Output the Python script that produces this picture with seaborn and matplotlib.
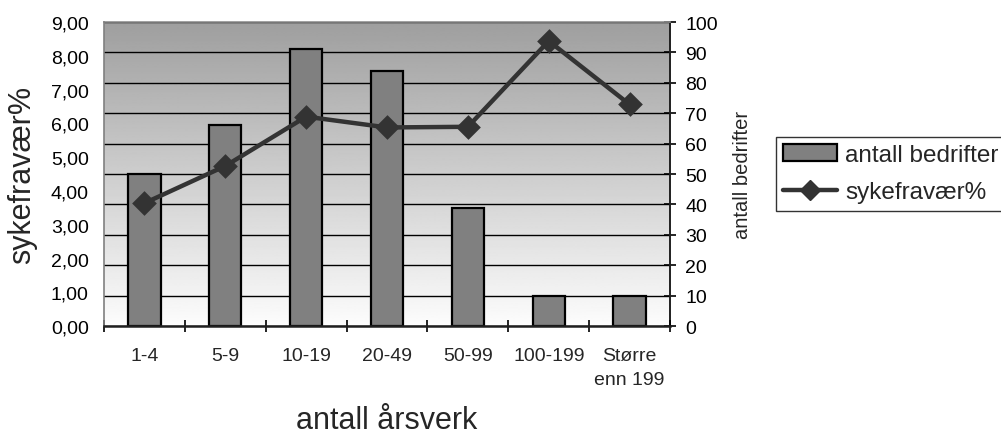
import numpy as np
import matplotlib
matplotlib.use("Agg")
import matplotlib.pyplot as plt
from matplotlib.patches import Patch
from matplotlib.lines import Line2D
from matplotlib.ticker import FixedLocator, FuncFormatter
import seaborn as sns

# Data
categories = ["1-4", "5-9", "10-19", "20-49", "50-99", "100-199", "Større\nenn 199"]
antall_bedrifter = [50, 66, 91, 84, 39, 10, 10]
sykefravaer = [3.64, 4.74, 6.20, 5.88, 5.90, 8.44, 6.56]

sns.set_style("white")
plt.rcParams["font.family"] = ["Liberation Sans", "DejaVu Sans"]

fig = plt.figure(figsize=(10.01, 4.35), dpi=100)
ax = fig.add_axes([0.1039, 0.248, 0.5655, 0.699])
ax2 = ax.twinx()

# line axis above the bar axis
ax.set_zorder(ax2.get_zorder() + 1)
ax.patch.set_visible(False)

# gradient background on the bar axis: light at the bottom, darker at the top
grad = np.linspace(0.99, 0.62, 256).reshape(-1, 1)
ax2.imshow(grad, extent=[0, 1, 0, 1], transform=ax2.transAxes,
           aspect="auto", cmap="gray", vmin=0, vmax=1, zorder=0,
           interpolation="bilinear", origin="lower")

sns.barplot(x=categories, y=antall_bedrifter, ax=ax2, color="#808080",
            edgecolor="black", linewidth=1.6, width=0.4, saturation=1,
            zorder=2)

sns.pointplot(x=categories, y=sykefravaer, ax=ax, color="#333333",
              markers="D", linestyles="-", errorbar=None,
              markersize=10, linewidth=3.2)

ax.set_xlim(-0.5, 6.5)
ax2.set_xlim(-0.5, 6.5)
ax.set_ylim(0, 9)
ax2.set_ylim(0, 100)

# left axis
ax.set_yticks(np.arange(0, 10, 1))
ax.yaxis.set_major_formatter(FuncFormatter(lambda v, p: f"{v:.2f}".replace(".", ",")))
ax.tick_params(axis="y", length=0, pad=11, labelsize=14, colors="black")
ax.set_ylabel("sykefravær%", fontsize=22, labelpad=10)

# right axis
ax2.set_yticks(np.arange(0, 101, 10))
ax2.tick_params(axis="y", direction="inout", length=8, width=1.2, pad=7,
                labelsize=14, colors="black")
ax2.set_ylabel("antall bedrifter", fontsize=14.5, labelpad=11)
ax2.grid(axis="y", color="black", linewidth=1.0)
ax2.grid(axis="x", visible=False)
ax2.set_axisbelow(True)
ax2.xaxis.set_visible(False)
ax2.set_xlabel("")

# category axis
ax.set_xticks(range(len(categories)))
ax.set_xticklabels(categories, fontsize=14, linespacing=1.55)
ax.xaxis.set_minor_locator(FixedLocator(np.arange(-0.5, 7, 1)))
ax.tick_params(axis="x", which="major", length=0, pad=15)
ax.tick_params(axis="x", which="minor", direction="inout", length=9,
               width=1.2, color="black", bottom=True)
ax.set_xlabel("antall årsverk", fontsize=22, labelpad=12)
ax.grid(False)

# spines
for s in ax.spines.values():
    s.set_visible(False)
ax.spines["left"].set_visible(True)
ax.spines["left"].set_color("#808080")
ax.spines["left"].set_linewidth(1.2)
ax.spines["bottom"].set_visible(True)
ax.spines["bottom"].set_color("#202020")
ax.spines["bottom"].set_linewidth(1.8)
ax2.spines["left"].set_visible(False)
ax2.spines["bottom"].set_visible(False)
ax2.spines["top"].set_color("#909090")
ax2.spines["top"].set_linewidth(1.2)
ax2.spines["right"].set_color("#202020")
ax2.spines["right"].set_linewidth(1.4)

handles = [
    Patch(facecolor="#808080", edgecolor="black", linewidth=1.6),
    Line2D([0], [0], color="#333333", linewidth=3.2, marker="D", markersize=10),
]
leg = fig.legend(handles, ["antall bedrifter", "sykefravær%"],
                 loc="upper left", bbox_to_anchor=(0.775, 0.683),
                 fontsize=17.5, frameon=True, fancybox=False,
                 edgecolor="black", handlelength=2.2, handletextpad=0.35,
                 borderpad=0.3, labelspacing=0.62, borderaxespad=0)
leg.get_frame().set_linewidth(1.0)

fig.savefig("out.png", dpi=100)
